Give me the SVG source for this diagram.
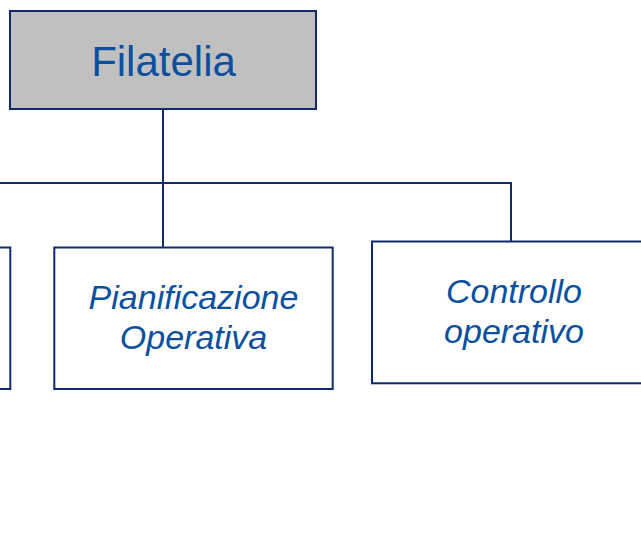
<svg xmlns="http://www.w3.org/2000/svg" width="641" height="543" viewBox="0 0 641 543">
<style>
.box{fill:#ffffff;stroke:#102a6c;stroke-width:2}
.root{fill:#c0c0c0;stroke:#102a6c;stroke-width:2}
.conn{fill:none;stroke:#102a6c;stroke-width:2}
.t{font-family:"Liberation Sans",Arial,sans-serif;fill:#0b509e;text-anchor:middle}
.it{font-size:34px;font-style:italic}
</style>
<rect width="641" height="543" fill="#ffffff"/>
<g id="connectors">
<path class="conn" d="M163 109 V247"/>
<path class="conn" d="M0 183 H511 V241.5"/>
</g>
<g id="node-filatelia">
<rect class="root" x="10" y="11" width="306" height="98"/>
<text class="t" x="163.5" y="75.5" font-size="42">Filatelia</text>
</g>
<g id="node-left">
<rect class="box" x="-270" y="247.5" width="280.3" height="141.5"/>
</g>
<g id="node-pianificazione">
<rect class="box" x="54.3" y="247.5" width="278.4" height="141.5"/>
<text class="t it" x="193.5" y="309.3">Pianificazione</text>
<text class="t it" x="193.5" y="349.3">Operativa</text>
</g>
<g id="node-controllo">
<rect class="box" x="372" y="241.5" width="282" height="141.8"/>
<text class="t it" x="514" y="303.3">Controllo</text>
<text class="t it" x="514" y="343.3">operativo</text>
</g>
</svg>
